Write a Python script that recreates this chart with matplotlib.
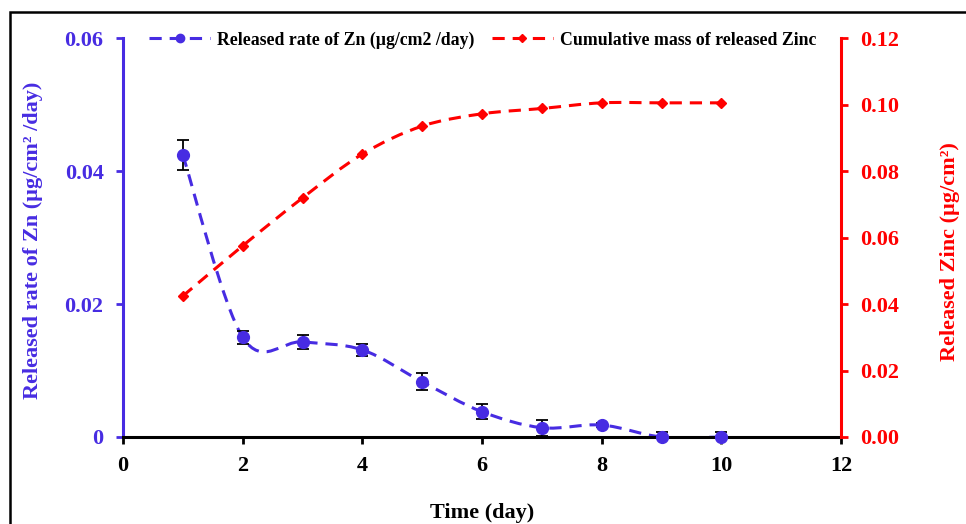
import matplotlib
matplotlib.use("Agg")
import matplotlib.pyplot as plt
from matplotlib.path import Path
from matplotlib.patches import PathPatch, Rectangle
from matplotlib.lines import Line2D
import numpy as np

plt.rcParams['font.family'] = ['Liberation Serif', 'DejaVu Serif']
plt.rcParams['font.weight'] = 'bold'
plt.rcParams['axes.labelweight'] = 'bold'

days = [1, 2, 3, 4, 5, 6, 7, 8, 9, 10]
rate = [0.0424, 0.0150, 0.0143, 0.0131, 0.0083, 0.0038, 0.0014, 0.0018, 0.0, 0.0]
rate_err = [0.0023, 0.0010, 0.0011, 0.0009, 0.0013, 0.0011, 0.0012, 0.0003, 0.0008, 0.0008]
cumulative = [0.0424, 0.0575, 0.0719, 0.0851, 0.0935, 0.0972, 0.0988, 0.1005, 0.1005, 0.1005]

x_ticks = [0, 2, 4, 6, 8, 10, 12]
left_ticks = [0, 0.02, 0.04, 0.06]
left_labels = ['0', '0.02', '0.04', '0.06']
right_ticks = [0, 0.02, 0.04, 0.06, 0.08, 0.10, 0.12]
right_labels = ['0.00', '0.02', '0.04', '0.06', '0.08', '0.10', '0.12']

BLUE = '#472CE2'
RED = '#FF0000'


def smooth_path(xs, ys):
    # excel style smoothed line: cubic bezier through the points
    p = np.column_stack([xs, ys]).astype(float)
    n = len(p)
    verts = [p[0]]
    codes = [Path.MOVETO]
    for i in range(n - 1):
        p0 = p[i - 1] if i > 0 else p[i]
        p3 = p[i + 2] if i + 2 < n else p[i + 1]
        c1 = p[i] + (p[i + 1] - p0) / 6
        c2 = p[i + 1] - (p3 - p[i]) / 6
        verts += [c1, c2, p[i + 1]]
        codes += [Path.CURVE4] * 3
    return Path(verts, codes)


fig = plt.figure(figsize=(9.66, 5.24), dpi=100)
ax = fig.add_axes([123 / 966, 1 - 437 / 524, 718 / 966, 399 / 524])
ax2 = ax.twinx()

dash = (0, (4, 2.6))
ax.add_patch(PathPatch(smooth_path(days, rate), fill=False, ec=BLUE, lw=2.2,
                       linestyle=dash, zorder=2))
ax.errorbar(days, rate, yerr=rate_err, fmt='none', ecolor='black', elinewidth=1.3,
            capsize=4, capthick=1.3, zorder=3)
ax.plot(days, rate, 'o', color=BLUE, ms=8.5, zorder=4, clip_on=False)

ax2.add_patch(PathPatch(smooth_path(days, cumulative), fill=False, ec=RED, lw=2.2,
                        linestyle=dash, zorder=2))
ax2.plot(days, cumulative, 'D', color=RED, ms=5.5, zorder=4)

ax.set_xlim(0, 12)
ax.set_ylim(0, 0.06)
ax2.set_ylim(0, 0.12)
ax.set_xticks(x_ticks)
ax.set_yticks(left_ticks)
ax.set_yticklabels(left_labels)
ax2.set_yticks(right_ticks)
ax2.set_yticklabels(right_labels)

for a in (ax, ax2):
    a.spines['top'].set_visible(False)
ax.spines['right'].set_visible(False)
ax2.spines['left'].set_visible(False)
ax2.spines['bottom'].set_visible(False)
ax.spines['left'].set_color(BLUE)
ax.spines['left'].set_linewidth(2.2)
ax.spines['bottom'].set_linewidth(2.2)
ax2.spines['right'].set_color(RED)
ax2.spines['right'].set_linewidth(2.2)

ax.tick_params(axis='x', direction='out', length=5, width=2, labelsize=16, pad=9)
ax.tick_params(axis='y', direction='out', length=5, width=2, color=BLUE,
               labelcolor=BLUE, labelsize=16, pad=9)
ax2.tick_params(axis='y', direction='out', length=5, width=2, color=RED,
                labelcolor=RED, labelsize=16, pad=9)

ax.set_xlabel('Time (day)', fontsize=16, labelpad=19)
ax.set_ylabel('Released rate of Zn (µg/cm² /day)', color=BLUE, fontsize=16)
ax2.set_ylabel('Released Zinc (µg/cm²)', color=RED, fontsize=16)
ax.yaxis.set_label_coords(-0.112, 0.494)
ax2.yaxis.set_label_coords(1.1379, 0.466)

h1 = Line2D([], [], color=BLUE, lw=2.2, linestyle=dash, marker='o', ms=6)
h2 = Line2D([], [], color=RED, lw=2.2, linestyle=dash, marker='D', ms=4.5)
ax.legend([h1, h2], ['Released rate of Zn (µg/cm2 /day)', 'Cumulative mass of released Zinc'],
          loc='center', bbox_to_anchor=(0.501, 0.995), ncol=2, frameon=False,
          handlelength=3.4, columnspacing=1.0, handletextpad=0.4,
          prop={'size': 12.8, 'weight': 'bold'})

fig.patches.append(Rectangle((10 / 966, -0.1), 1.2, 1 - 12 / 524 + 0.1,
                             transform=fig.transFigure, fill=False, ec='black',
                             lw=1.8, zorder=10))

fig.savefig('out.png', dpi=100)
